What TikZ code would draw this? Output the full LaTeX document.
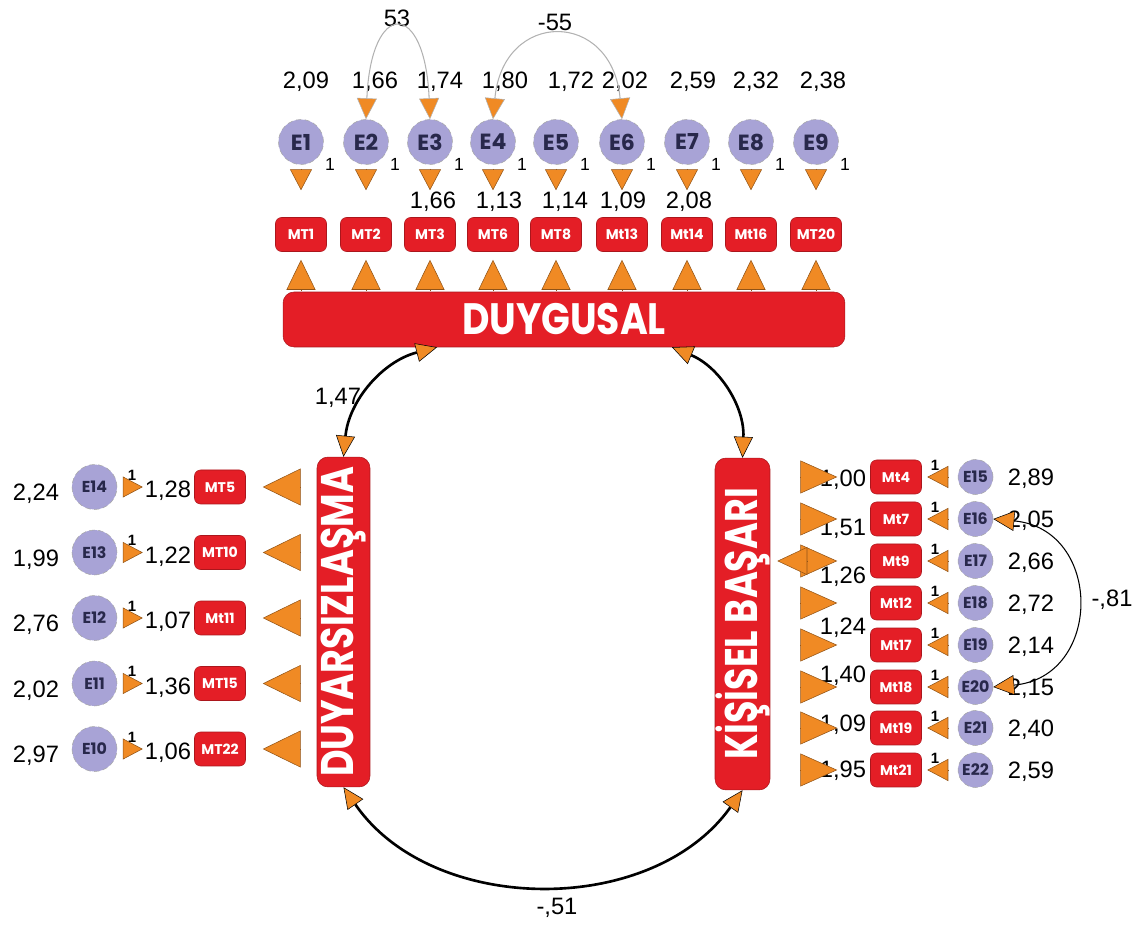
\documentclass[tikz,border=0pt]{standalone}
\usepackage{fontspec}
\usepackage{graphicx}
\usepackage{xcolor}
\usetikzlibrary{arrows.meta,positioning}
\setmainfont{Liberation Sans}
\newfontfamily\labfont{Poppins}
\definecolor{mtred}{RGB}{228,30,38}
\definecolor{tipor}{RGB}{240,138,36}
\definecolor{lav}{RGB}{168,163,214}
\definecolor{enavy}{RGB}{40,40,75}

\begin{document}
\begin{tikzpicture}[x=0.02cm, y=0.02cm, node distance=1.05cm,
    err/.style={circle, fill=lav, draw=gray!70, densely dashed, line width=0.3pt, minimum size=0.9cm, inner sep=0pt, text=enavy, font=\labfont\bfseries\fontsize{12.5}{12.5}\selectfont},
    errs/.style={err, font=\labfont\bfseries\fontsize{9}{9}\selectfont},
    errr/.style={errs, minimum size=0.7cm},
    obs/.style={rectangle, rounded corners=0.12cm, fill=mtred, draw=mtred!75!black, line width=0.3pt, minimum width=1.02cm, minimum height=0.68cm, inner sep=0pt, text=white, font=\labfont\bfseries\fontsize{8}{8}\selectfont},
    lat/.style={rectangle, rounded corners=0.22cm, fill=mtred, draw=mtred!75!black, line width=0.3pt, inner sep=0pt, text=white},
    vtext/.style={rotate=90, text=white, inner sep=0pt, font=\labfont\bfseries\fontsize{26}{26}\selectfont},
    num/.style={inner sep=0pt, font=\fontsize{13.5}{14}\selectfont},
    one/.style={inner sep=0pt, font=\bfseries\fontsize{8.5}{8.5}\selectfont},
    sub/.style={inner sep=0pt, label distance=0.12cm, font=\fontsize{10}{10}\selectfont},
    bigup/.style={draw=tipor!60!black, line width=0.3pt, -{Triangle[length=0.6cm,width=0.58cm,fill=tipor]}, shorten <=0.04cm, shorten >=0.16cm},
    bigleft/.style={draw=tipor!60!black, line width=0.3pt, -{Triangle[length=0.76cm,width=0.74cm,fill=tipor]}, shorten <=0.34cm, shorten >=0.34cm},
    bigright/.style={draw=tipor!60!black, line width=0.3pt, -{Triangle[length=0.74cm,width=0.66cm,fill=tipor]}, shorten <=0.6cm, shorten >=0.66cm},
    diamtip/.style={draw=tipor!60!black, line width=0.3pt, -{Triangle[length=0.6cm,width=0.56cm,fill=tipor]}, shorten <=1.26cm, shorten >=0.14cm},
    smalldown/.style={draw=tipor!60!black, line width=0.3pt, -{Triangle[length=0.42cm,width=0.44cm,fill=tipor]}, shorten <=0.08cm, shorten >=0.54cm},
    smallright/.style={draw=tipor!60!black, line width=0.3pt, -{Triangle[length=0.4cm,width=0.42cm,fill=tipor]}, shorten <=0.12cm, shorten >=1.03cm},
    smallleft/.style={draw=tipor!60!black, line width=0.3pt, -{Triangle[length=0.42cm,width=0.44cm,fill=tipor]}, shorten <=0.19cm, shorten >=0.11cm},
    covg/.style={draw=gray!60, line width=0.6pt, {Triangle[length=0.42cm,width=0.4cm,fill=tipor,line width=0.3pt]}-{Triangle[length=0.42cm,width=0.4cm,fill=tipor,line width=0.3pt]}},
    corr/.style={line width=1.5pt, {Triangle[length=0.42cm,width=0.38cm,fill=tipor,line width=0.3pt]}-{Triangle[length=0.42cm,width=0.38cm,fill=tipor,line width=0.3pt]}},
    corrthin/.style={line width=0.6pt, {Triangle[length=0.42cm,width=0.4cm,fill=tipor,line width=0.3pt]}-{Triangle[length=0.42cm,width=0.4cm,fill=tipor,line width=0.3pt]}}]
    \useasboundingbox (0,0) rectangle (1144,-925);

    % DUYGUSAL block
    \node[err, label={[sub]-34:1}] (E1) at (301,-142) {E1};
    \node[err, label={[sub]-34:1}] (E2) at (366,-142) {E2};
    \node[err, label={[sub]-34:1}] (E3) at (430,-142) {E3};
    \node[err, label={[sub]-34:1}] (E4) at (493,-142) {E4};
    \node[err, label={[sub]-34:1}] (E5) at (556,-142) {E5};
    \node[err, label={[sub]-34:1}] (E6) at (622,-142) {E6};
    \node[err, label={[sub]-34:1}] (E7) at (687,-142) {E7};
    \node[err, label={[sub]-34:1}] (E8) at (751,-142) {E8};
    \node[err, label={[sub]-34:1}] (E9) at (816,-142) {E9};
    \node[obs, below=of E1] (MT1)  {MT1};
    \node[obs, below=of E2] (MT2)  {MT2};
    \node[obs, below=of E3] (MT3)  {MT3};
    \node[obs, below=of E4] (MT6)  {MT6};
    \node[obs, below=of E5] (MT8)  {MT8};
    \node[obs, below=of E6] (Mt13) {Mt13};
    \node[obs, below=of E7] (Mt14) {Mt14};
    \node[obs, below=of E8] (Mt16) {Mt16};
    \node[obs, below=of E9] (MT20) {MT20};
    \node[lat, minimum width=11.24cm, minimum height=1.1cm, font=\labfont\bfseries\fontsize{25}{25}\selectfont] (DUY) at (564,-319.5) {\scalebox{0.86}[1]{DUYGUSAL}};

    \node[num] (v1) at (306,-82) {2,09};
    \node[num] (v2) at (375,-82) {1,66};
    \node[num] (v3) at (440,-82) {1,74};
    \node[num] (v4) at (505,-82) {1,80};
    \node[num] (v5) at (571,-82) {1,72};
    \node[num] (v6) at (625,-82) {2,02};
    \node[num] (v7) at (693,-82) {2,59};
    \node[num] (v8) at (756,-82) {2,32};
    \node[num] (v9) at (823,-82) {2,38};
    \node[num] (w3) at (433,-202) {1,66};
    \node[num] (w6) at (499,-202) {1,13};
    \node[num] (w8) at (565,-202) {1,14};
    \node[num] (w13) at (623,-202) {1,09};
    \node[num] (w14) at (689,-202) {2,08};
    \node[num] (c23) at (397,-18) {53};
    \node[num] (c46) at (555,-22) {-55};

    \foreach \e/\m in {E1/MT1, E2/MT2, E3/MT3, E4/MT6, E5/MT8, E6/Mt13, E7/Mt14, E8/Mt16, E9/MT20} {
        \draw[smalldown] (\e) -- (\m);
        \draw[bigup] (DUY.north -| \m) -- (\m);
    }
    \draw[covg] (E2.north) .. controls +(5,120) and +(-5,120) .. (E3.north);
    \draw[covg] (E4.north) .. controls +(10,110) and +(-10,110) .. (E6.north);

    % DUYARSIZLASMA block
    \node[lat, minimum width=1.06cm, minimum height=6.6cm, label={[vtext]center:{\scalebox{0.8}[1]{DUYARSIZLAŞMA}}}] (DZ) at (343.5,-622) {};
    \node[obs] (MT5)  at (220,-487)   {MT5};
    \node[obs] (MT10) at (220,-552.5) {MT10};
    \node[obs] (Mt11) at (220,-618)   {Mt11};
    \node[obs] (MT15) at (220,-683.5) {MT15};
    \node[obs] (MT22) at (220,-749)   {MT22};
    \node[errs, left=1.54cm of MT5]  (E14) {E14};
    \node[errs, left=1.54cm of MT10] (E13) {E13};
    \node[errs, left=1.54cm of Mt11] (E12) {E12};
    \node[errs, left=1.54cm of MT15] (E11) {E11};
    \node[errs, left=1.54cm of MT22] (E10) {E10};
    \node[one] (o14) at (132,-475)   {1};
    \node[one] (o13) at (132,-540.5) {1};
    \node[one] (o12) at (132,-606)   {1};
    \node[one] (o11) at (132,-671.5) {1};
    \node[one] (o10) at (132,-737)   {1};
    \node[num] (u14) at (36,-494)    {2,24};
    \node[num] (u13) at (36,-559.5)  {1,99};
    \node[num] (u12) at (36,-625)    {2,76};
    \node[num] (u11) at (36,-690.5)  {2,02};
    \node[num] (u10) at (36,-756)    {2,97};
    \node[num] (i5)  at (168,-491)   {1,28};
    \node[num] (i10) at (168,-556.5) {1,22};
    \node[num] (i11) at (168,-622)   {1,07};
    \node[num] (i15) at (168,-687.5) {1,36};
    \node[num] (i22) at (168,-753)   {1,06};
    \foreach \e/\m in {E14/MT5, E13/MT10, E12/Mt11, E11/MT15, E10/MT22} {
        \draw[smallright] (\e) -- (\m);
        \draw[bigleft] (DZ.west |- \m) -- (\m);
    }

    % KISISEL BASARI block
    \node[lat, minimum width=1.1cm, minimum height=6.64cm, label={[vtext]center:{\scalebox{0.8}[1]{KİŞİSEL BAŞARI}}}] (KB) at (742.5,-624) {};
    \node[obs] (Mt4)  at (896,-477) {Mt4};
    \node[obs] (Mt7)  at (896,-519) {Mt7};
    \node[obs] (Mt9)  at (896,-561) {Mt9};
    \node[obs] (Mt12) at (896,-603) {Mt12};
    \node[obs] (Mt17) at (896,-645) {Mt17};
    \node[obs] (Mt18) at (896,-687) {Mt18};
    \node[obs] (Mt19) at (896,-728) {Mt19};
    \node[obs] (Mt21) at (896,-770) {Mt21};
    \node[errr, right=0.72cm of Mt4]  (E15) {E15};
    \node[errr, right=0.72cm of Mt7]  (E16) {E16};
    \node[errr, right=0.72cm of Mt9]  (E17) {E17};
    \node[errr, right=0.72cm of Mt12] (E18) {E18};
    \node[errr, right=0.72cm of Mt17] (E19) {E19};
    \node[errr, right=0.72cm of Mt18] (E20) {E20};
    \node[errr, right=0.72cm of Mt19] (E21) {E21};
    \node[errr, right=0.72cm of Mt21] (E22) {E22};
    \node[one] (o15) at (935,-465) {1};
    \node[one] (o16) at (935,-507) {1};
    \node[one] (o17) at (935,-549) {1};
    \node[one] (o18) at (935,-591) {1};
    \node[one] (o19) at (935,-633) {1};
    \node[one] (o20) at (935,-675) {1};
    \node[one] (o21) at (935,-716) {1};
    \node[one] (o22) at (935,-758) {1};
    \node[num] (u15) at (1031,-479) {2,89};
    \node[num] (u16) at (1031,-521) {2,05};
    \node[num] (u17) at (1031,-563) {2,66};
    \node[num] (u18) at (1031,-605) {2,72};
    \node[num] (u19) at (1031,-647) {2,14};
    \node[num] (u20) at (1031,-689) {2,15};
    \node[num] (u21) at (1031,-730) {2,40};
    \node[num] (u22) at (1031,-772) {2,59};
    \node[num] (i4)  at (843,-480) {1,00};
    \node[num] (i7)  at (843,-529) {1,51};
    \node[num] (i9)  at (843,-577) {1,26};
    \node[num] (i12) at (843,-628) {1,24};
    \node[num] (i18) at (843,-676) {1,40};
    \node[num] (i19) at (843,-725) {1,09};
    \node[num] (i21) at (843,-771) {1,95};
    \node[num] (c1620) at (1112,-600) {-,81};
    \foreach \e/\m in {E15/Mt4, E16/Mt7, E17/Mt9, E18/Mt12, E19/Mt17, E20/Mt18, E21/Mt19, E22/Mt21} {
        \draw[smallleft] (\e) -- (\m);
        \draw[bigright] (KB.east |- \m) -- (\m);
    }
    \draw[diamtip] (Mt9) -- (KB.east |- Mt9);
    \draw[corrthin] (E16.east) .. controls +(110,-10) and +(110,10) .. (E20.east);

    % factor correlations
    \draw[corr] ([xshift=-2.54cm]DUY.south) to[bend right=35] (DZ.north);
    \draw[corr] ([xshift=2.16cm]DUY.south) to[bend left=35] (KB.north);
    \draw[corr] (DZ.south) to[bend right=55] (KB.south);
    \node[num] (c12) at (338,-398) {1,47};
    \node[num] (c13) at (557,-908) {-,51};
\end{tikzpicture}
\end{document}
